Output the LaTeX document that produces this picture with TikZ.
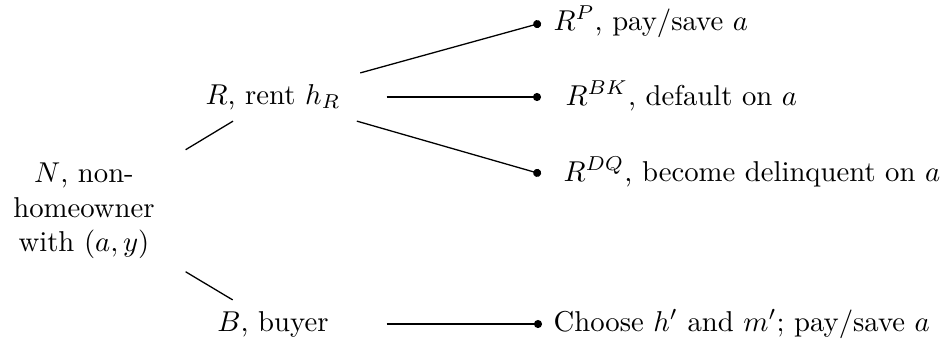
\documentclass[tikz,border=0pt]{standalone}
\usetikzlibrary{arrows.meta}
\begin{document}
\begin{tikzpicture}[x=0.3484pt,y=-0.3484pt,
  lvl/.style={inner sep=0pt, minimum width=78.7pt, minimum height=16.4pt},
  root/.style={inner sep=0pt, minimum width=70.4pt, minimum height=48.8pt, align=center},
  leaf/.style={anchor=base west, inner sep=0pt},
  conn/.style={line width=0.45pt},
  dottip/.style={conn, -{Circle[length=2.8pt]}}]
\useasboundingbox (0,0) rectangle (948,343);
% tree nodes
\node[root] (N) at (84,211) {$N$, non-\\homeowner\\with $(a,y)$};
\node[lvl] (R) at (273,97) {$R$, rent $h_R$};
\node[lvl] (B) at (273,324) {$B$, buyer};
% leaf end points
\coordinate (dP) at (541,23);
\coordinate (dBK) at (541,97);
\coordinate (dDQ) at (541,174);
\coordinate (dC) at (542,324);
% leaf labels
\node[leaf] (tP) at (553,30) {$R^P$, pay/save $a$};
\node[leaf] (tBK) at (565,105) {$R^{BK}$, default on $a$};
\node[leaf] (tDQ) at (563,181) {$R^{DQ}$, become delinquent on $a$};
\node[leaf] (tC) at (553,331) {Choose $h'$ and $m'$; pay/save $a$};
% connectors
\draw[conn] (N) -- (R);
\draw[conn] (N) -- (B);
\draw[dottip] (R) -- (dP);
\draw[dottip] (R) -- (dBK);
\draw[dottip] (R) -- (dDQ);
\draw[dottip] (B) -- (dC);
\end{tikzpicture}
\end{document}
